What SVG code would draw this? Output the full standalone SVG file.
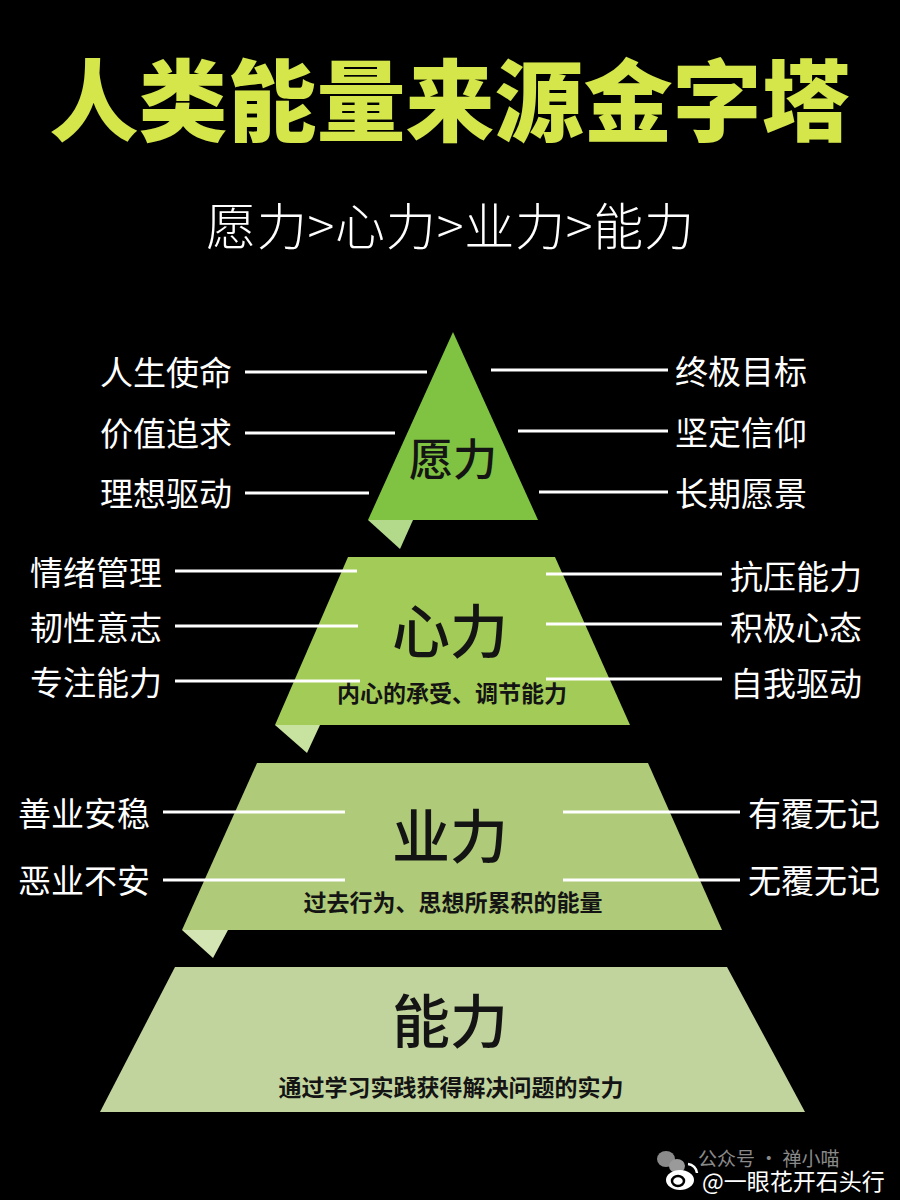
<svg xmlns="http://www.w3.org/2000/svg" width="900" height="1200" viewBox="0 0 900 1200">
<style>
.cjk{font-family:"Noto Sans CJK SC","Noto Sans",sans-serif}
.title{fill:#d5e64a;font-size:89px;font-weight:900}
.sub{fill:#ffffff;font-size:50px;font-weight:300}
.lbl{fill:#ffffff;font-size:33px;font-weight:400}
.tier{fill:#141414;font-weight:500}
.desc{fill:#141414;font-size:23px;font-weight:700}
.ln{stroke:#ffffff;stroke-width:3;fill:none}
</style>
<rect x="0" y="0" width="900" height="1200" fill="#000000"/>
<g id="title">
<text class="cjk title" x="450" y="134" text-anchor="middle">人类能量来源金字塔</text>
</g>
<g id="subtitle">
<text class="cjk sub" x="450" y="245" text-anchor="middle" textLength="488">愿力&gt;心力&gt;业力&gt;能力</text>
</g>
<g id="tier1">
<polygon points="453,332 538,520 368,520" fill="#80c342"/>
<polygon points="368,520 413,520 400,549" fill="#b3d98a"/>
<text class="cjk tier" x="453" y="476" font-size="44" text-anchor="middle">愿力</text>
</g>
<g id="tier2">
<polygon points="348,557 555,557 630,725 275,725" fill="#a3cb57"/>
<polygon points="275,725 320,725 307,753" fill="#c8e2a0"/>
<text class="cjk tier" x="450" y="653" font-size="58" text-anchor="middle">心力</text>
<text class="cjk desc" x="452" y="702" text-anchor="middle">内心的承受、调节能力</text>
</g>
<g id="tier3">
<polygon points="257,763 648,763 722,930 182,930" fill="#afca78"/>
<polygon points="182,930 228,930 213,958" fill="#d3e5b2"/>
<text class="cjk tier" x="450" y="858" font-size="58" text-anchor="middle">业力</text>
<text class="cjk desc" x="453" y="911" text-anchor="middle">过去行为、思想所累积的能量</text>
</g>
<g id="tier4">
<polygon points="175,967 727,967 805,1112 100,1112" fill="#c2d49e"/>
<text class="cjk tier" x="450" y="1043" font-size="58" text-anchor="middle">能力</text>
<text class="cjk desc" x="451" y="1096" text-anchor="middle">通过学习实践获得解决问题的实力</text>
</g>
<g id="connectors">
<line class="ln" x1="245" y1="372" x2="427" y2="372"/>
<line class="ln" x1="491" y1="370" x2="668" y2="370"/>
<line class="ln" x1="245" y1="433" x2="395" y2="433"/>
<line class="ln" x1="518" y1="431" x2="668" y2="431"/>
<line class="ln" x1="245" y1="493" x2="369" y2="493"/>
<line class="ln" x1="539" y1="492" x2="668" y2="492"/>
<line class="ln" x1="175" y1="571" x2="357" y2="571"/>
<line class="ln" x1="546" y1="574" x2="722" y2="574"/>
<line class="ln" x1="175" y1="626" x2="358" y2="626"/>
<line class="ln" x1="546" y1="624" x2="722" y2="624"/>
<line class="ln" x1="175" y1="681" x2="360" y2="681"/>
<line class="ln" x1="546" y1="679" x2="722" y2="679"/>
<line class="ln" x1="163" y1="812" x2="345" y2="812"/>
<line class="ln" x1="563" y1="812" x2="740" y2="812"/>
<line class="ln" x1="163" y1="880" x2="345" y2="880"/>
<line class="ln" x1="563" y1="880" x2="740" y2="880"/>
</g>
<g id="labels-left">
<text class="cjk lbl" x="100" y="385">人生使命</text>
<text class="cjk lbl" x="100" y="446">价值追求</text>
<text class="cjk lbl" x="100" y="506">理想驱动</text>
<text class="cjk lbl" x="30" y="585">情绪管理</text>
<text class="cjk lbl" x="30" y="640">韧性意志</text>
<text class="cjk lbl" x="30" y="695">专注能力</text>
<text class="cjk lbl" x="18" y="826">善业安稳</text>
<text class="cjk lbl" x="18" y="893">恶业不安</text>
</g>
<g id="labels-right">
<text class="cjk lbl" x="675" y="384">终极目标</text>
<text class="cjk lbl" x="675" y="445">坚定信仰</text>
<text class="cjk lbl" x="675" y="506">长期愿景</text>
<text class="cjk lbl" x="730" y="589">抗压能力</text>
<text class="cjk lbl" x="730" y="640">积极心态</text>
<text class="cjk lbl" x="730" y="696">自我驱动</text>
<text class="cjk lbl" x="748" y="826">有覆无记</text>
<text class="cjk lbl" x="748" y="893">无覆无记</text>
</g>
<g id="watermark">
<ellipse cx="666" cy="1159" rx="9" ry="8" fill="#8a8a8a"/>
<ellipse cx="677" cy="1166" rx="8" ry="7" fill="#9a9a9a"/>
<text class="cjk" x="698" y="1166" font-size="19" fill="#8a8a8a">公众号 · 禅小喵</text>
<ellipse cx="680" cy="1180" rx="14" ry="10" fill="#ffffff"/>
<ellipse cx="678" cy="1181" rx="6" ry="5" fill="none" stroke="#000000" stroke-width="2.5"/>
<path d="M688,1164 a10,10 0 0 1 9,9" fill="none" stroke="#ffffff" stroke-width="2.5"/>
<text class="cjk" x="702" y="1190" font-size="23" fill="#ffffff">@一眼花开石头行</text>
</g>
</svg>
